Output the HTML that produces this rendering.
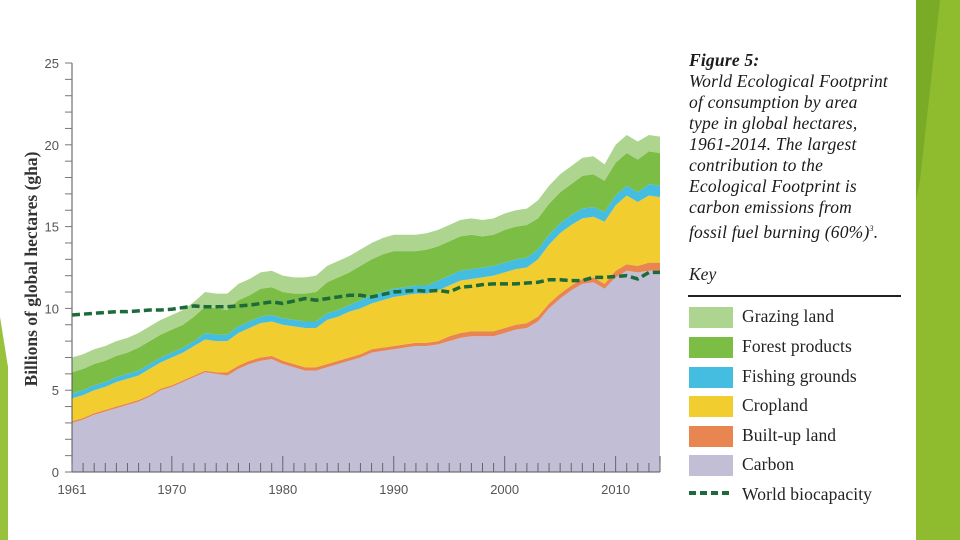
<!DOCTYPE html>
<html><head><meta charset="utf-8">
<style>
html,body{margin:0;padding:0;background:#fff;}
body{width:960px;height:540px;overflow:hidden;position:relative;font-family:"Liberation Serif",serif;}
.cap{position:absolute;left:689px;top:50px;width:240px;font-style:italic;font-size:17.5px;line-height:21px;color:#1a1a1a;letter-spacing:0.2px;white-space:nowrap;}
.cap b{font-size:17.5px;}
.key{position:absolute;left:689px;top:264px;font-style:italic;font-size:17.5px;color:#222;}
.rule{position:absolute;left:688px;top:295px;width:213px;height:2px;background:#222;}
.lg{position:absolute;left:689px;height:21px;width:44px;}
.lt{position:absolute;left:742px;font-size:17.5px;color:#222;line-height:20px;letter-spacing:0.1px;}
</style></head>
<body>
<svg width="960" height="540" style="position:absolute;left:0;top:0">
  <polygon points="916,0 960,0 960,540 916,540" fill="#8fbc2e"/>
  <polygon points="916,0 940,0 920,180 916,200" fill="#7aab26"/>
  <polygon points="0,317 8,367 8,540 0,540" fill="#98c23c"/>
</svg>
<svg id="chart" width="680" height="540" style="position:absolute;left:0;top:0"></svg>

<div class="cap"><b>Figure 5:</b><br>World Ecological Footprint<br>of consumption by area<br>type in global hectares,<br>1961-2014. The largest<br>contribution to the<br>Ecological Footprint is<br>carbon emissions from<br>fossil fuel burning (60%)<sup style="font-size:8px">3</sup>.</div>
<div class="key">Key</div>
<div class="rule"></div>
<div class="lg" style="top:307px;background:#add58f"></div>
<div class="lt" style="top:306px">Grazing land</div>
<div class="lg" style="top:337px;background:#7bbd45"></div>
<div class="lt" style="top:336px">Forest products</div>
<div class="lg" style="top:367px;background:#45bde0"></div>
<div class="lt" style="top:366px">Fishing grounds</div>
<div class="lg" style="top:396px;background:#f2cd30"></div>
<div class="lt" style="top:395px">Cropland</div>
<div class="lg" style="top:426px;background:#e98550"></div>
<div class="lt" style="top:425px">Built-up land</div>
<div class="lg" style="top:455px;background:#c1bed6"></div>
<div class="lt" style="top:454px">Carbon</div>
<svg style="position:absolute;left:689px;top:485px" width="46" height="16"><line x1="0" y1="8" x2="44" y2="8" stroke="#1d6a3a" stroke-width="4" stroke-dasharray="7,4"/></svg>
<div class="lt" style="top:484px">World biocapacity</div>

<script>
const years=[];for(let y=1961;y<=2014;y++)years.push(y);
const carbon=[3.0,3.2,3.5,3.7,3.9,4.1,4.3,4.6,5.0,5.2,5.5,5.8,6.1,6.0,5.9,6.3,6.6,6.8,6.9,6.6,6.4,6.2,6.2,6.4,6.6,6.8,7.0,7.3,7.4,7.5,7.6,7.7,7.7,7.8,8.0,8.2,8.3,8.3,8.3,8.5,8.7,8.8,9.2,10.0,10.6,11.1,11.5,11.6,11.2,11.9,12.3,12.2,12.3,12.3];
const builtup=[0.1,0.1,0.1,0.1,0.1,0.1,0.1,0.1,0.1,0.1,0.1,0.1,0.1,0.1,0.2,0.2,0.2,0.2,0.2,0.2,0.2,0.2,0.2,0.2,0.2,0.2,0.2,0.2,0.2,0.2,0.2,0.2,0.2,0.2,0.3,0.3,0.3,0.3,0.3,0.3,0.3,0.3,0.3,0.3,0.3,0.3,0.3,0.3,0.3,0.4,0.4,0.4,0.5,0.5];
const cropland=[1.4,1.4,1.4,1.4,1.5,1.5,1.5,1.6,1.6,1.7,1.7,1.8,1.9,1.9,1.9,2.0,2.0,2.1,2.1,2.2,2.3,2.4,2.4,2.7,2.7,2.8,2.8,2.8,2.9,3.0,3.0,3.0,3.0,3.1,3.1,3.2,3.2,3.3,3.4,3.4,3.4,3.4,3.5,3.6,3.7,3.7,3.7,3.7,3.8,4.0,4.2,3.9,4.1,4.0];
const fishing=[0.3,0.3,0.3,0.3,0.3,0.3,0.3,0.3,0.3,0.3,0.3,0.3,0.4,0.4,0.4,0.4,0.4,0.4,0.4,0.4,0.4,0.4,0.4,0.4,0.4,0.4,0.5,0.5,0.5,0.5,0.5,0.5,0.5,0.6,0.6,0.6,0.6,0.6,0.6,0.6,0.6,0.6,0.6,0.6,0.6,0.6,0.6,0.6,0.6,0.6,0.6,0.6,0.7,0.7];
const forest=[1.3,1.3,1.3,1.3,1.3,1.3,1.4,1.4,1.4,1.4,1.4,1.5,1.6,1.6,1.5,1.6,1.6,1.7,1.7,1.6,1.6,1.7,1.8,1.9,2.0,2.0,2.1,2.2,2.3,2.3,2.2,2.1,2.2,2.1,2.1,2.1,2.1,1.9,1.9,2.0,2.0,2.0,1.9,1.9,1.9,1.9,2.0,2.0,1.9,2.0,2.0,2.0,2.0,2.0];
const grazing=[0.9,0.9,0.9,0.9,0.9,0.9,0.9,0.9,0.9,0.9,0.9,0.9,0.9,0.9,1.0,1.0,1.0,1.0,1.0,1.0,1.0,1.0,1.0,1.0,1.0,1.0,1.0,1.0,1.0,1.0,1.0,1.0,1.0,1.0,1.0,1.0,1.0,1.0,1.0,1.0,1.0,1.0,1.1,1.1,1.1,1.1,1.1,1.1,1.0,1.1,1.1,1.1,1.0,1.0];
const biocapacity=[9.6,9.65,9.7,9.75,9.8,9.8,9.85,9.9,9.9,9.95,10.05,10.15,10.1,10.1,10.1,10.15,10.2,10.3,10.4,10.3,10.45,10.6,10.5,10.6,10.7,10.8,10.8,10.7,10.85,11.0,11.05,11.1,11.05,11.1,11.0,11.3,11.35,11.45,11.5,11.5,11.5,11.55,11.6,11.75,11.75,11.7,11.7,11.9,11.9,11.95,12.0,11.8,12.2,12.2];
const yTicks=[0,5,10,15,20,25];
const xTicks=[1961,1970,1980,1990,2000,2010];

const NS="http://www.w3.org/2000/svg";
const svg=document.getElementById('chart');
const X0=72,X1=660,Y0=472,Y1=63;
const xs=y=>X0+(y-1961)/(2014-1961)*(X1-X0);
const ys=v=>Y0-v/25*(Y0-Y1);
function mk(tag,attrs){const e=document.createElementNS(NS,tag);for(const k in attrs)e.setAttribute(k,attrs[k]);svg.appendChild(e);return e;}

const layers=[[carbon,'#c1bed6','area-carbon'],[builtup,'#e98550','area-builtup'],[cropland,'#f2cd30','area-cropland'],[fishing,'#45bde0','area-fishing'],[forest,'#7bbd45','area-forest'],[grazing,'#add58f','area-grazing']];
let base=years.map(()=>0);
layers.forEach(([arr,col,name])=>{
  const top=base.map((b,i)=>b+arr[i]);
  let d='M'+years.map((y,i)=>xs(y)+','+ys(top[i])).join('L');
  for(let i=years.length-1;i>=0;i--)d+='L'+xs(years[i])+','+ys(base[i]);
  d+='Z';
  const p=mk('path',{d:d,fill:col});
  
  
  base=top;
});
const bl=mk('polyline',{points:years.map((y,i)=>xs(y)+','+ys(biocapacity[i])).join(' '),fill:'none',stroke:'#1d6a3a','stroke-width':3.5,'stroke-dasharray':'8,4'});



const ax=mk('line',{x1:X0,y1:Y1,x2:X0,y2:Y0,stroke:'#555','stroke-width':1});


const bx=mk('line',{x1:X0,y1:Y0,x2:X1,y2:Y0,stroke:'#555','stroke-width':1});


mk('line',{x1:X1,y1:Y0,x2:X1,y2:Y0-16,stroke:'#555','stroke-width':1});
for(let v=0;v<=25;v++){mk('line',{x1:X0-7,y1:ys(v),x2:X0,y2:ys(v),stroke:'#777','stroke-width':1});}
yTicks.forEach(v=>{
  const t=mk('text',{x:X0-13,y:ys(v)+5,'text-anchor':'end','font-size':13,fill:'#555','font-family':'Liberation Sans Narrow, Liberation Sans, sans-serif'});
  t.textContent=v;
  
  
});
years.forEach(y=>{const big=(y%10===0);mk('line',{x1:xs(y),y1:Y0,x2:xs(y),y2:Y0-(big?16:9),stroke:'#666','stroke-width':1});});
xTicks.forEach(y=>{
  const t=mk('text',{x:xs(y),y:Y0+22,'text-anchor':'middle','font-size':13,fill:'#555','font-family':'Liberation Sans Narrow, Liberation Sans, sans-serif'});
  t.textContent=y;
  
  
});
const yt=mk('text',{x:0,y:0,transform:'translate(37,269) rotate(-90)','text-anchor':'middle','font-size':17.5,'font-weight':'bold',fill:'#333','font-family':'Liberation Serif, serif'});
yt.textContent='Billions of global hectares (gha)';


</script>
</body></html>
